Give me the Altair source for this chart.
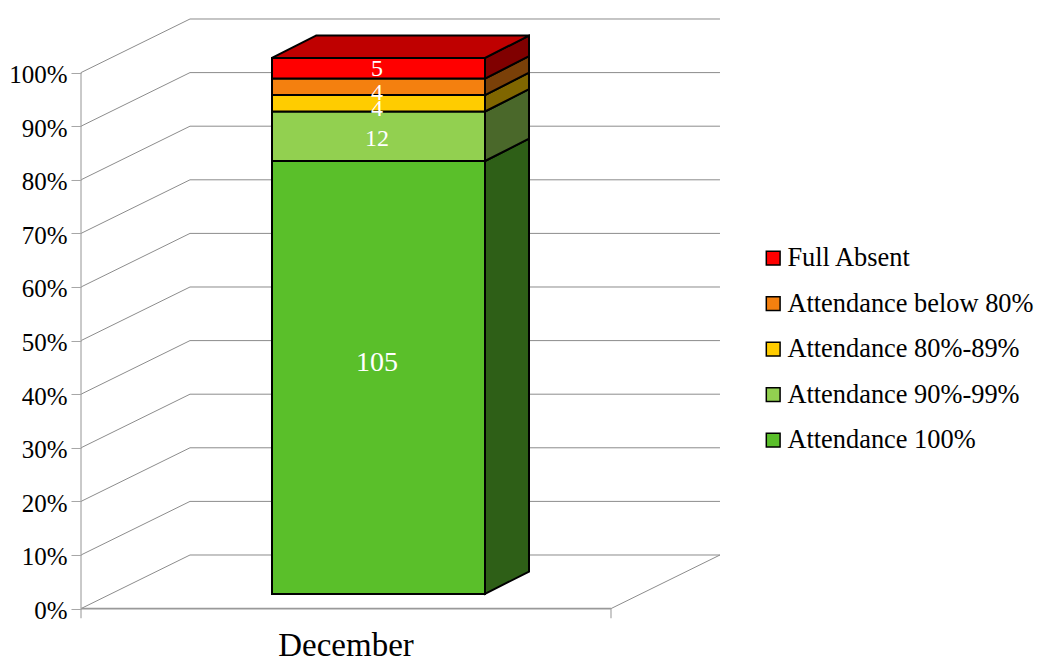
import altair as alt
import pandas as pd

FONT = "Liberation Serif"
category = "December"
series = ["Attendance 100%", "Attendance 90%-99%", "Attendance 80%-89%", "Attendance below 80%", "Full Absent"]
counts = [105, 12, 4, 4, 5]
front_colors = ["#5abf2a", "#92d050", "#ffcc00", "#f4800f", "#ff0000"]
side_colors = ["#2e5f17", "#4a682a", "#806600", "#7a4008", "#800000"]
top_color = "#bf0000"
label_sizes = [28, 24, 24, 24, 24]
label_dy = [-14, 3, 6, 6, 1]
tick_values = list(range(0, 101, 10))

# projection of the 3D frame, in plot units (x: px from the axis, y: percent)
FLOOR_W, WALL_DX, WALL_DY = 530, 109, 10
BAR_X0, BAR_X1, BAR_BASE = 191, 404, 2.74
BAR_DX, BAR_DY = 44, 4.16

total = sum(counts)
rows, sides, cum = [], [], 0.0
for s, c, sc in zip(series, counts, side_colors):
    lo = BAR_BASE + cum
    cum += c / total * 100
    hi = BAR_BASE + cum
    rows.append(dict(series=s, count=c, lo=lo, hi=hi, mid=(lo + hi) / 2, x0=BAR_X0, x1=BAR_X1))
    sides.append(dict(series=s, side=sc, x=BAR_X1, lo=lo, hi=hi))
    sides.append(dict(series=s, side=sc, x=BAR_X1 + BAR_DX, lo=lo + BAR_DY, hi=hi + BAR_DY))
front = pd.DataFrame(rows)
side = pd.DataFrame(sides)
top_y = BAR_BASE + cum
top = pd.DataFrame([
    dict(y=top_y, x=BAR_X0, x2=BAR_X1),
    dict(y=top_y + BAR_DY, x=BAR_X0 + BAR_DX, x2=BAR_X1 + BAR_DX),
])

grid = []
for v in tick_values:
    for i, (x, y) in enumerate([(0, v), (WALL_DX, v + WALL_DY), (WALL_DX + FLOOR_W, v + WALL_DY)]):
        grid.append(dict(g=f"w{v}", i=i, x=x, y=y))
for i, (x, y) in enumerate([(FLOOR_W, 0), (FLOOR_W + WALL_DX, WALL_DY)]):
    grid.append(dict(g="floor", i=i, x=x, y=y))
grid = pd.DataFrame(grid)

frame = pd.DataFrame([
    dict(x=0, x2=FLOOR_W, y=0, y2=0),
])
stems = pd.DataFrame([
    dict(x=0, y=-1.8, y2=100),
    dict(x=FLOOR_W, y=-1.8, y2=0),
])

X = alt.X("x:Q", scale=alt.Scale(domain=[0, 640], nice=False, zero=False), axis=None)
Y = alt.Y("y:Q", scale=alt.Scale(domain=[0, 110], nice=False, zero=False),
          axis=alt.Axis(values=tick_values, title=None, grid=False, domain=False, tickSize=10,
                        tickColor="#a6a6a6", tickWidth=1, labelExpr="datum.value + '%'",
                        labelFont=FONT, labelFontSize=25, labelColor="#000000", labelPadding=4,
                        labelBaseline="middle", labelOffset=2))

grid_l = alt.Chart(grid).mark_line(color="#8c8c8c", strokeWidth=1).encode(
    x=X, y=Y, detail="g:N", order="i:Q")
floor_l = alt.Chart(frame).mark_rule(color="#999999", strokeWidth=1.6).encode(
    x=alt.X("x:Q"), x2="x2:Q", y=alt.Y("y:Q"))
stem_l = alt.Chart(stems).mark_rule(color="#a6a6a6", strokeWidth=1.2).encode(
    x=alt.X("x:Q"), y=alt.Y("y:Q"), y2="y2:Q")

side_l = alt.Chart(side).mark_area(stroke="black", strokeWidth=2, strokeJoin="miter", opacity=1).encode(
    x=alt.X("x:Q"), y=alt.Y("lo:Q"), y2="hi:Q", detail="series:N",
    fill=alt.Fill("side:N", scale=None, legend=None))
top_l = alt.Chart(top).mark_area(orient="horizontal", fill=top_color, stroke="black", strokeWidth=2,
                                 opacity=1).encode(
    y=alt.Y("y:Q"), x=alt.X("x:Q"), x2="x2:Q")
front_l = alt.Chart(front).mark_rect(stroke="black", strokeWidth=2, opacity=1).encode(
    x=alt.X("x0:Q"), x2="x1:Q", y=alt.Y("lo:Q"), y2="hi:Q",
    color=alt.Color("series:N",
                    scale=alt.Scale(domain=series[::-1], range=front_colors[::-1]),
                    sort=series[::-1],
                    legend=alt.Legend(title=None, orient="none", legendX=679, legendY=226,
                                      symbolType="square", symbolSize=190, symbolStrokeColor="black",
                                      symbolStrokeWidth=1.5, symbolOpacity=1, labelFont=FONT,
                                      labelFontSize=26.4, labelColor="#000000", labelOffset=1,
                                      rowPadding=18.5, labelLimit=300)))

text_layers = []
for s, c, size, dy in zip(series, counts, label_sizes, label_dy):
    one = front[front.series == s]
    text_layers.append(
        alt.Chart(one).mark_text(color="white", font=FONT, fontSize=size, dy=dy, baseline="middle",
                                 align="center").encode(
            x=alt.value((BAR_X0 + BAR_X1) / 2 - 1.5), y=alt.Y("mid:Q"), text="count:Q"))

cat_l = alt.Chart(pd.DataFrame({"c": [category], "x": [FLOOR_W / 2], "y": [-7.0]})).mark_text(
    font=FONT, fontSize=33, color="#000000", baseline="middle", align="center").encode(
    x=alt.X("x:Q"), y=alt.Y("y:Q"), text="c:N")

chart = alt.layer(grid_l, floor_l, stem_l, side_l, top_l, front_l, *text_layers, cat_l).properties(
    width=640, height=589.6, padding={"left": 73, "top": 11, "right": 313, "bottom": 50},
    autosize=alt.AutoSizeParams(type="none"),
).configure_view(stroke=None)

chart.save("out.html", embed_options={"renderer": "svg", "actions": False})
